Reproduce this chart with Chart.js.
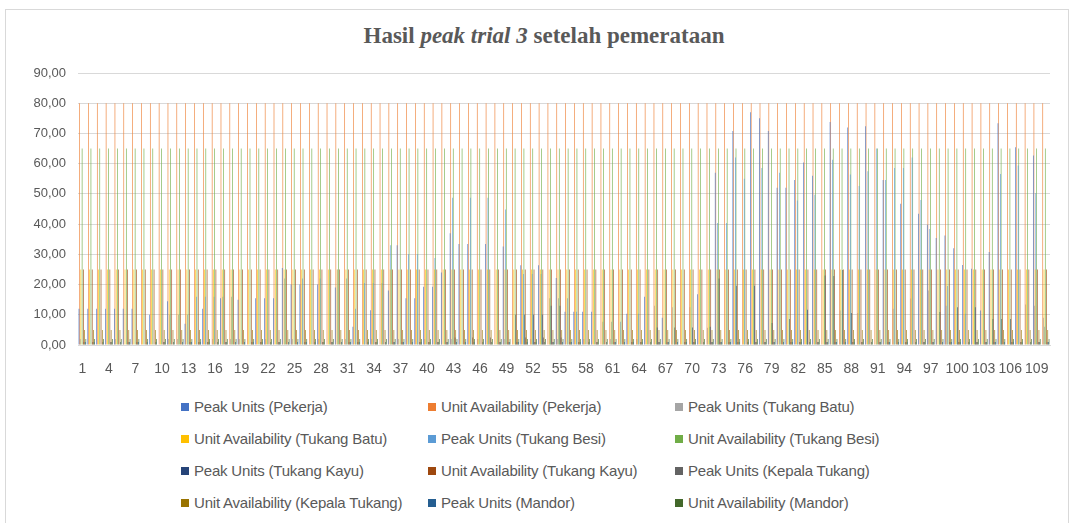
<!DOCTYPE html>
<html>
<head>
<meta charset="utf-8">
<script src="https://cdn.jsdelivr.net/npm/chart.js@4.4.1/dist/chart.umd.min.js"></script>
<style>
  body { margin: 0; width: 1073px; height: 523px; background: #fff; overflow: hidden; font-family: "Liberation Sans", Arial, sans-serif; }
  #frame { position: absolute; left: 5px; top: 9px; width: 1062px; height: 520px; border: 1px solid #d9d9d9; }
  #title { position: absolute; left: 0; top: 23px; width: 1088px; text-align: center; font-family: "Liberation Serif", "Times New Roman", serif; font-weight: bold; font-size: 23px; color: #595959; }
  #wrap { position: absolute; left: 0; top: 0; width: 1073px; height: 385px; }
  .legend-item { position: absolute; font-size: 15px; color: #595959; white-space: nowrap; line-height: 16px; letter-spacing: -0.2px; }
  .legend-item span { display: inline-block; width: 8px; height: 8px; margin-right: 5px; vertical-align: 1px; }
</style>
</head>
<body>
<div id="frame"></div>
<div id="title">Hasil <i>peak trial 3</i> setelah pemerataan</div>
<div id="wrap"><canvas id="chart" width="1073" height="385"></canvas></div>
<div id="legend"></div>
<script>
const days = Array.from({ length: 110 }, (_, i) => String(i + 1));
const yTicks = [0, 10, 20, 30, 40, 50, 60, 70, 80, 90];

const peakPekerja = [
  12, 12, 12, 12, 12, 12, 12, 0, 10, 0,
  14.5, 0, 7, 0, 12, 0, 15.5, 0, 15, 0,
  15.5, 15.5, 15.5, 25.5, 20, 20, 0, 20, 0, 19,
  0, 6, 0, 11.5, 0, 18, 33, 15.5, 15.5, 19.3,
  19.3, 24, 37, 33.4, 33.4, 0, 33.4, 0, 32.6, 0,
  26.4, 0, 26.4, 0, 22.2, 11, 11, 11, 11, 0,
  0, 0, 10.3, 0, 16, 0, 9, 0, 0, 0,
  16.8, 0, 57, 0, 70.8, 0, 77, 75, 70.8, 52,
  52, 54.6, 60.4, 56, 0, 73.8, 0, 72, 0, 72.4,
  0, 54.6, 0, 46.7, 0, 43.4, 39.8, 35.4, 36.2, 32,
  26.5, 25.2, 11.4, 30.8, 73.4, 0, 65.4, 0, 62.7, 0,
];
const availPekerja = [
  80, 80, 80, 80, 80, 80, 80, 80, 80, 80,
  80, 80, 80, 80, 80, 80, 80, 80, 80, 80,
  80, 80, 80, 80, 80, 80, 80, 80, 80, 80,
  80, 80, 80, 80, 80, 80, 80, 80, 80, 80,
  80, 80, 80, 80, 80, 80, 80, 80, 80, 80,
  80, 80, 80, 80, 80, 80, 80, 80, 80, 80,
  80, 80, 80, 80, 80, 80, 80, 80, 80, 80,
  80, 80, 80, 80, 80, 80, 80, 80, 80, 80,
  80, 80, 80, 80, 80, 80, 80, 80, 80, 80,
  80, 80, 80, 80, 80, 80, 80, 80, 80, 80,
  80, 80, 80, 80, 80, 80, 80, 80, 80, 80,
];
const peakBatu = [
  2, 0, 0, 0, 2, 0, 0, 0, 0, 0,
  2, 2, 0, 0, 0, 2, 0, 2, 2, 0,
  0, 2, 0, 0, 2, 0, 0, 2, 0, 0,
  2, 0, 0, 2, 0, 0, 2, 0, 0, 2,
  0, 0, 2, 0, 0, 2, 0, 0, 2, 0,
  0, 2, 0, 0, 2, 0, 0, 2, 0, 0,
  2, 0, 0, 2, 0, 13, 0, 12.5, 0, 12.5,
  0, 5.7, 0, 0, 0, 0, 0, 0, 0, 0,
  0, 0, 0, 0, 0, 0, 11.4, 0, 10.6, 0,
  0, 0, 12, 0, 15.4, 0, 18, 0, 13, 0,
  0, 0, 0, 0, 0, 0, 0, 13.4, 13, 9,
];
const availBatu = [
  25, 25, 25, 25, 25, 25, 25, 25, 25, 25,
  25, 25, 25, 25, 25, 25, 25, 25, 25, 25,
  25, 25, 25, 25, 25, 25, 25, 25, 25, 25,
  25, 25, 25, 25, 25, 25, 25, 25, 25, 25,
  25, 25, 25, 25, 25, 25, 25, 25, 25, 25,
  25, 25, 25, 25, 25, 25, 25, 25, 25, 25,
  25, 25, 25, 25, 25, 25, 25, 25, 25, 25,
  25, 25, 25, 25, 25, 25, 25, 25, 25, 25,
  25, 25, 25, 25, 25, 25, 25, 25, 25, 25,
  25, 25, 25, 25, 25, 25, 25, 25, 25, 25,
  25, 25, 25, 25, 25, 25, 25, 25, 25, 25,
];
const peakBesi = [
  0, 0, 0, 0, 0, 0, 0, 0, 0, 0,
  10, 10, 10, 16, 16, 16, 16, 16, 0, 0,
  0, 0, 0, 22, 0, 22, 0, 22, 0, 25,
  22, 12, 20.5, 20.5, 20.5, 33, 0, 30, 30, 0,
  28.8, 0, 48.7, 0, 48.7, 0, 48.7, 0, 44.8, 0,
  23.5, 23.5, 23.5, 15.5, 15.5, 15.5, 11, 0, 0, 7.7,
  7.7, 7.7, 0, 10.3, 0, 0, 0, 0, 0, 0,
  0, 0, 40.4, 40.4, 62, 55, 0, 58.6, 0, 57,
  0, 47.8, 0, 49.7, 0, 61.3, 0, 56.4, 52.6, 57.5,
  65, 54.6, 58.6, 58.6, 62, 48, 38.4, 0, 19.5, 0,
  10.3, 0, 0, 0, 56.6, 0, 59.4, 0, 50.3, 6,
];
const availBesi = [
  65, 65, 65, 65, 65, 65, 65, 65, 65, 65,
  65, 65, 65, 65, 65, 65, 65, 65, 65, 65,
  65, 65, 65, 65, 65, 65, 65, 65, 65, 65,
  65, 65, 65, 65, 65, 65, 65, 65, 65, 65,
  65, 65, 65, 65, 65, 65, 65, 65, 65, 65,
  65, 65, 65, 65, 65, 65, 65, 65, 65, 65,
  65, 65, 65, 65, 65, 65, 65, 65, 65, 65,
  65, 65, 65, 65, 65, 65, 65, 65, 65, 65,
  65, 65, 65, 65, 65, 65, 65, 65, 65, 65,
  65, 65, 65, 65, 65, 65, 65, 65, 65, 65,
  65, 65, 65, 65, 65, 65, 65, 65, 65, 65,
];
const peakKayu = [
  0, 0, 0, 0, 0, 0, 0, 0, 0, 0,
  0, 0, 0, 0, 0, 0, 0, 0, 0, 0,
  0, 0, 0, 0, 0, 0, 0, 0, 0, 0,
  0, 0, 0, 0, 0, 0, 0, 0, 0, 0,
  0, 0, 0, 0, 0, 0, 0, 0, 0, 10,
  10, 10, 10, 13, 13, 0, 0, 0, 0, 0,
  0, 0, 0, 0, 0, 5.8, 0, 5.8, 0, 5.8,
  0, 6, 22, 0, 19.6, 0, 19.6, 0, 7.3, 0,
  8.6, 0, 11.7, 0, 23, 22.8, 24.8, 10.6, 0, 0,
  0, 0, 0, 0, 0, 0, 0, 10.9, 0, 12.5,
  0, 12.5, 0, 8.6, 8.6, 8.6, 0, 0, 0, 0,
];
const availKayu = [
  25, 25, 25, 25, 25, 25, 25, 25, 25, 25,
  25, 25, 25, 25, 25, 25, 25, 25, 25, 25,
  25, 25, 25, 25, 25, 25, 25, 25, 25, 25,
  25, 25, 25, 25, 25, 25, 25, 25, 25, 25,
  25, 25, 25, 25, 25, 25, 25, 25, 25, 25,
  25, 25, 25, 25, 25, 25, 25, 25, 25, 25,
  25, 25, 25, 25, 25, 25, 25, 25, 25, 25,
  25, 25, 25, 25, 25, 25, 25, 25, 25, 25,
  25, 25, 25, 25, 25, 25, 25, 25, 25, 25,
  25, 25, 25, 25, 25, 25, 25, 25, 25, 25,
  25, 25, 25, 25, 25, 25, 25, 25, 25, 25,
];
const peakKepala = [
  1, 1, 0, 1, 0, 1, 1, 0, 0, 1,
  0, 0, 1, 1, 1, 0, 1, 0, 0, 1,
  1, 0, 1, 0, 0, 1, 0, 1, 1, 0,
  1, 1, 0, 1, 0, 1, 1, 0, 1, 1,
  1, 1, 2.5, 0, 2.5, 0, 2.5, 1, 1, 1,
  2.5, 1, 2.5, 1, 2.5, 1, 1, 0, 1, 0,
  1, 0, 1, 1, 0, 1, 1, 0, 1, 1,
  0, 1, 1, 1, 1, 0, 1, 1, 1, 0,
  1, 1, 0, 1, 1, 1, 0, 1, 1, 0,
  1, 1, 0, 1, 0, 1, 1, 0, 1, 1,
  0, 1, 1, 1, 0, 1, 1, 0, 1, 1,
];
const availKepala = [
  5, 5, 5, 5, 5, 5, 5, 5, 5, 5,
  5, 5, 5, 5, 5, 5, 5, 5, 5, 5,
  5, 5, 5, 5, 5, 5, 5, 5, 5, 5,
  5, 5, 5, 5, 5, 5, 5, 5, 5, 5,
  5, 5, 5, 5, 5, 5, 5, 5, 5, 5,
  5, 5, 5, 5, 5, 5, 5, 5, 5, 5,
  5, 5, 5, 5, 5, 5, 5, 5, 5, 5,
  5, 5, 5, 5, 5, 5, 5, 5, 5, 5,
  5, 5, 5, 5, 5, 5, 5, 5, 5, 5,
  5, 5, 5, 5, 5, 5, 5, 5, 5, 5,
  5, 5, 5, 5, 5, 5, 5, 5, 5, 5,
];
const peakMandor = [
  1, 1, 1, 1, 1, 1, 1, 1, 1, 1,
  1, 1, 1, 1, 1, 1, 1, 1, 1, 1,
  1, 1, 1, 1, 1, 1, 1, 1, 1, 1,
  1, 1, 1, 1, 1, 1, 1, 1, 1, 1,
  1, 1, 1, 1, 1, 1, 1, 1, 1, 1,
  1, 1, 1, 1, 1, 1, 1, 1, 1, 1,
  1, 1, 1, 1, 1, 1, 1, 1, 1, 1,
  1, 1, 1, 1, 1, 1, 1, 1, 1, 1,
  1, 1, 1, 1, 1, 1, 1, 1, 1, 1,
  1, 1, 1, 1, 1, 1, 1, 1, 1, 1,
  1, 1, 1, 1, 1, 1, 1, 1, 1, 1,
];
const availMandor = [
  2, 2, 2, 2, 2, 2, 2, 2, 2, 2,
  2, 2, 2, 2, 2, 2, 2, 2, 2, 2,
  2, 2, 2, 2, 2, 2, 2, 2, 2, 2,
  2, 2, 2, 2, 2, 2, 2, 2, 2, 2,
  2, 2, 2, 2, 2, 2, 2, 2, 2, 2,
  2, 2, 2, 2, 2, 2, 2, 2, 2, 2,
  2, 2, 2, 2, 2, 2, 2, 2, 2, 2,
  2, 2, 2, 2, 2, 2, 2, 2, 2, 2,
  2, 2, 2, 2, 2, 2, 2, 2, 2, 2,
  2, 2, 2, 2, 2, 2, 2, 2, 2, 2,
  2, 2, 2, 2, 2, 2, 2, 2, 2, 2,
];

const series = [
  { label: "Peak Units (Pekerja)", data: peakPekerja, color: "#4472C4" },
  { label: "Unit Availability (Pekerja)", data: availPekerja, color: "#ED7D31" },
  { label: "Peak Units (Tukang Batu)", data: peakBatu, color: "#A5A5A5" },
  { label: "Unit Availability (Tukang Batu)", data: availBatu, color: "#FFC000" },
  { label: "Peak Units (Tukang Besi)", data: peakBesi, color: "#5B9BD5" },
  { label: "Unit Availability (Tukang Besi)", data: availBesi, color: "#70AD47" },
  { label: "Peak Units (Tukang Kayu)", data: peakKayu, color: "#264478" },
  { label: "Unit Availability (Tukang Kayu)", data: availKayu, color: "#9E480E" },
  { label: "Peak Units (Kepala Tukang)", data: peakKepala, color: "#636363" },
  { label: "Unit Availability (Kepala Tukang)", data: availKepala, color: "#997300" },
  { label: "Peak Units (Mandor)", data: peakMandor, color: "#255E91" },
  { label: "Unit Availability (Mandor)", data: availMandor, color: "#43682B" },
];

const fmt = (v) => v.toFixed(2).replace(".", ",");

function renderLegend() {
  const legend = document.querySelector("#legend");
  const colX = [181, 428, 675];
  const rowY = [399, 431, 463, 495];
  series.forEach((s, i) => {
    const item = document.createElement("div");
    item.className = "legend-item";
    item.style.left = colX[i % 3] + "px";
    item.style.top = rowY[Math.floor(i / 3)] + "px";
    item.innerHTML = `<span style="background:${s.color}"></span>${s.label}`;
    legend.appendChild(item);
  });
}

function setupChart() {
  const ctx = document.getElementById("chart");
  return new Chart(ctx, {
    type: "bar",
    data: {
      labels: days,
      datasets: series.map((s) => ({
        label: s.label,
        data: s.data,
        backgroundColor: s.color,
        borderWidth: 0,
        categoryPercentage: 0.85,
        barPercentage: 1,
      })),
    },
    options: {
      responsive: false,
      animation: false,
      layout: { padding: { top: 73, right: 23, left: 0, bottom: 0 } },
      plugins: { legend: { display: false }, tooltip: { enabled: false } },
      scales: {
        x: {
          grid: { display: false },
          border: { color: "#d9d9d9" },
          ticks: {
            autoSkip: false,
            maxRotation: 0,
            minRotation: 0,
            color: "#595959",
            font: { size: 14 },
            padding: 8,
            callback(value, index) {
              return index % 3 === 0 ? this.getLabelForValue(value) : "";
            },
          },
          afterFit(scale) { scale.height = 40; },
        },
        y: {
          min: yTicks[0],
          max: yTicks[yTicks.length - 1],
          afterBuildTicks(scale) { scale.ticks = yTicks.map((v) => ({ value: v })); },
          grid: { color: "#d9d9d9", drawTicks: false },
          border: { display: false },
          ticks: { color: "#595959", font: { size: 13 }, padding: 12, callback: (v) => fmt(v) },
          afterFit(scale) { scale.width = 78; },
        },
      },
    },
  });
}

window.addEventListener("DOMContentLoaded", () => {
  renderLegend();
  setupChart();
});
</script>
</body>
</html>
